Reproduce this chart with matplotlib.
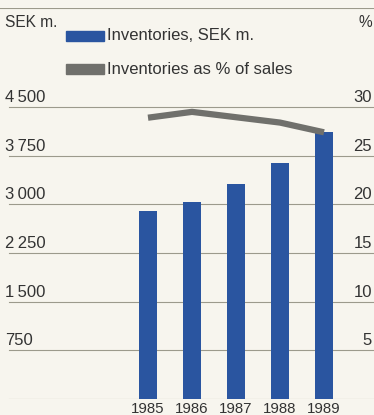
import matplotlib
matplotlib.use("Agg")
import matplotlib.pyplot as plt
from matplotlib.patches import Rectangle

plt.rcParams['font.family'] = ['Liberation Sans', 'DejaVu Sans']

years = ['1985', '1986', '1987', '1988', '1989']
inventories = [2900, 3040, 3320, 3630, 4120]       # SEK m.
pct_of_sales = [28.9, 29.5, 28.95, 28.4, 27.4]     # %
left_ticks = [750, 1500, 2250, 3000, 3750, 4500]
left_labels = ['750', '1\u2009500', '2\u2009250', '3\u2009000', '3\u2009750', '4\u2009500']
right_labels = ['5', '10', '15', '20', '25', '30']

bg = '#f7f5ee'
blue = '#2a55a0'
grey = '#70706c'
txt = '#333333'
grid = '#9c9a8c'

W, H = 374, 415
fig = plt.figure(figsize=(W / 100, H / 100), dpi=100, facecolor=bg)

# axes bottom sits on the zero line, top on the frame rule
y0, ytop = 399, 8
ax = fig.add_axes([0, (H - y0) / H, 1, (y0 - ytop) / H])
ax.set_facecolor(bg)
for s in ax.spines.values():
    s.set_visible(False)

px = 4500 / (y0 - 107)  # value per pixel
ax.set_ylim(0, (y0 - ytop) * px)
ax.set_xlim(-148 / 44, (W - 148) / 44)

x = list(range(len(years)))
ax.bar(x, inventories, width=0.43, color=blue, zorder=3)

# percent axis shares the scale: 30 % == 4 500
ax.plot(x, [p * 150 for p in pct_of_sales], color=grey, lw=4.5,
        solid_capstyle='butt', solid_joinstyle='round', zorder=4)

# horizontal rules
ax.axhline(0, xmin=9 / W, color=grid, lw=0.8, zorder=1)
for t in left_ticks:
    ax.axhline(t, xmin=9 / W, color=grid, lw=0.8, zorder=1)
ax.axhline((y0 - ytop) * px - 0.5 * px, color=grid, lw=0.8, zorder=1)

tr = ax.get_yaxis_transform()
for t, l, r in zip(left_ticks, left_labels, right_labels):
    ax.text(5 / W, t + 5 * px, l, transform=tr, fontsize=12, color=txt,
            ha='left', va='baseline')
    ax.text(372 / W, t + 5 * px, r, transform=tr, fontsize=12, color=txt,
            ha='right', va='baseline', clip_on=False)

fig.text(5 / W, 1 - 27 / H, 'SEK m.', fontsize=11.2, color=txt, va='baseline')
fig.text(372 / W, 1 - 27 / H, '%', fontsize=11.2, color=txt, va='baseline',
         ha='right')

# legend
fig.patches.append(Rectangle((66 / W, 1 - 41 / H), 38 / W, 10 / H,
                             transform=fig.transFigure, color=blue))
fig.patches.append(Rectangle((66 / W, 1 - 74 / H), 38 / W, 10 / H,
                             transform=fig.transFigure, color=grey))
fig.text(107 / W, 1 - 36 / H, 'Inventories, SEK m.', fontsize=12, color=txt,
         va='center')
fig.text(107 / W, 1 - 69 / H, 'Inventories as % of sales', fontsize=12,
         color=txt, va='center')

ax.set_yticks([])
ax.set_xticks(x)
ax.set_xticklabels(years, fontsize=10.8, color=txt)
ax.tick_params(axis='x', length=0, pad=2)

fig.savefig('out.png', dpi=100, facecolor=bg)
